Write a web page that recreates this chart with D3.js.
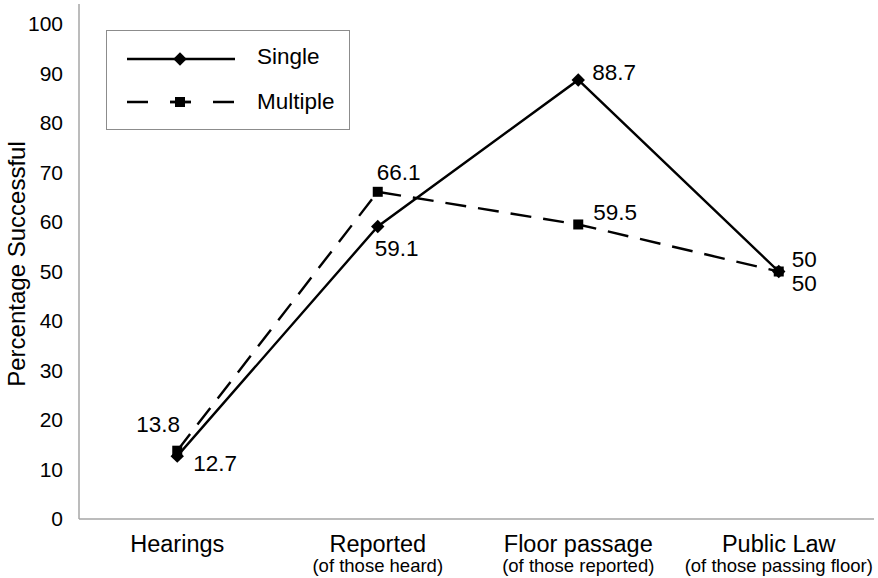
<!DOCTYPE html>
<html>
<head>
<meta charset="utf-8">
<script src="https://cdn.jsdelivr.net/npm/d3@7"></script>
<style>
  html, body { margin: 0; padding: 0; background: #fff; }
  svg { display: block; font-family: "Liberation Sans", Arial, sans-serif; }
</style>
</head>
<body>
<svg id="chart" width="878" height="578"></svg>
<script>
// Stages of the legislative process
const stages = ["Hearings", "Reported", "Floor passage", "Public Law"];
const stageNotes = ["", "(of those heard)", "(of those reported)", "(of those passing floor)"];

// Percentage successful at each stage
const singleValues = [12.7, 59.1, 88.7, 50];
const multipleValues = [13.8, 66.1, 59.5, 50];

const yTicks = [0, 10, 20, 30, 40, 50, 60, 70, 80, 90, 100];

// Label placement offsets (px) relative to each marker
const singleLabelOffsets = [[16, 15], [-3, 30], [14, 0], [13, 19]];
const multipleLabelOffsets = [[-41, -19], [-1, -12], [15, -4], [13, -5]];

const svg = d3.select("#chart");
const plotLeft = 79, plotRight = 874, plotTop = 4, plotBottom = 519;

const x = d3.scalePoint().domain(stages).range([77, 879]).padding(0.5);
const y = d3.scaleLinear().domain([0, 100]).range([plotBottom, 24]);

// Axis lines
svg.append("line").attr("x1", plotLeft).attr("x2", plotLeft).attr("y1", plotTop).attr("y2", plotBottom)
  .attr("stroke", "#a6a6a6").attr("stroke-width", 1.5);
svg.append("line").attr("x1", plotLeft).attr("x2", plotRight).attr("y1", plotBottom).attr("y2", plotBottom)
  .attr("stroke", "#a6a6a6").attr("stroke-width", 1.5);

// Y tick labels
svg.append("g").selectAll("text").data(yTicks).join("text")
  .attr("x", 63).attr("y", d => y(d)).attr("dy", "0.35em")
  .attr("text-anchor", "end").attr("font-size", 21).attr("fill", "#000")
  .text(d => d);

// Y axis title
svg.append("text")
  .attr("transform", `translate(25,264) rotate(-90)`)
  .attr("text-anchor", "middle").attr("font-size", 24).text("Percentage Successful");

// Category labels
const cat = svg.append("g").selectAll("g").data(stages).join("g")
  .attr("transform", d => `translate(${x(d)},0)`);
cat.append("text").attr("y", 552).attr("text-anchor", "middle").attr("font-size", 23.5).text(d => d);
cat.append("text").attr("y", 572).attr("text-anchor", "middle").attr("font-size", 18.5)
  .text((d, i) => stageNotes[i]);

const line = d3.line().x((d, i) => x(stages[i])).y(d => y(d));

// Multiple series (dashed, square markers)
svg.append("path").datum(multipleValues).attr("d", line)
  .attr("fill", "none").attr("stroke", "#000").attr("stroke-width", 2.4)
  .attr("stroke-dasharray", "21,12");
svg.append("g").selectAll("rect").data(multipleValues).join("rect")
  .attr("x", (d, i) => x(stages[i]) - 5).attr("y", d => y(d) - 5)
  .attr("width", 10).attr("height", 10).attr("fill", "#000");

// Single series (solid, diamond markers)
svg.append("path").datum(singleValues).attr("d", line)
  .attr("fill", "none").attr("stroke", "#000").attr("stroke-width", 2.4);
const diamond = d3.symbol().type(d3.symbolDiamond2).size(115);
svg.append("g").selectAll("path").data(singleValues).join("path")
  .attr("d", diamond)
  .attr("transform", (d, i) => `translate(${x(stages[i])},${y(d)})`)
  .attr("fill", "#000");

// Value labels
svg.append("g").selectAll("text").data(singleValues).join("text")
  .attr("x", (d, i) => x(stages[i]) + singleLabelOffsets[i][0])
  .attr("y", (d, i) => y(d) + singleLabelOffsets[i][1])
  .attr("font-size", 22.5).text(d => d);
svg.append("g").selectAll("text").data(multipleValues).join("text")
  .attr("x", (d, i) => x(stages[i]) + multipleLabelOffsets[i][0])
  .attr("y", (d, i) => y(d) + multipleLabelOffsets[i][1])
  .attr("font-size", 22.5).text(d => d);

// Legend
const lg = svg.append("g");
lg.append("rect").attr("x", 106.5).attr("y", 30.5).attr("width", 243).attr("height", 99)
  .attr("fill", "#fff").attr("stroke", "#8c8c8c").attr("stroke-width", 1);
lg.append("line").attr("x1", 127).attr("x2", 235).attr("y1", 59).attr("y2", 59)
  .attr("stroke", "#000").attr("stroke-width", 2.4);
lg.append("path").attr("d", diamond).attr("transform", "translate(180,59)");
lg.append("line").attr("x1", 127).attr("x2", 235).attr("y1", 102).attr("y2", 102)
  .attr("stroke", "#000").attr("stroke-width", 2.4).attr("stroke-dasharray", "21,22");
lg.append("line").attr("x1", 170).attr("x2", 191).attr("y1", 102).attr("y2", 102)
  .attr("stroke", "#000").attr("stroke-width", 2.4);
lg.append("rect").attr("x", 175).attr("y", 97).attr("width", 10).attr("height", 10);
lg.append("text").attr("x", 257).attr("y", 64).attr("font-size", 22.5).text("Single");
lg.append("text").attr("x", 257).attr("y", 109).attr("font-size", 22.5).text("Multiple");
</script>
</body>
</html>
